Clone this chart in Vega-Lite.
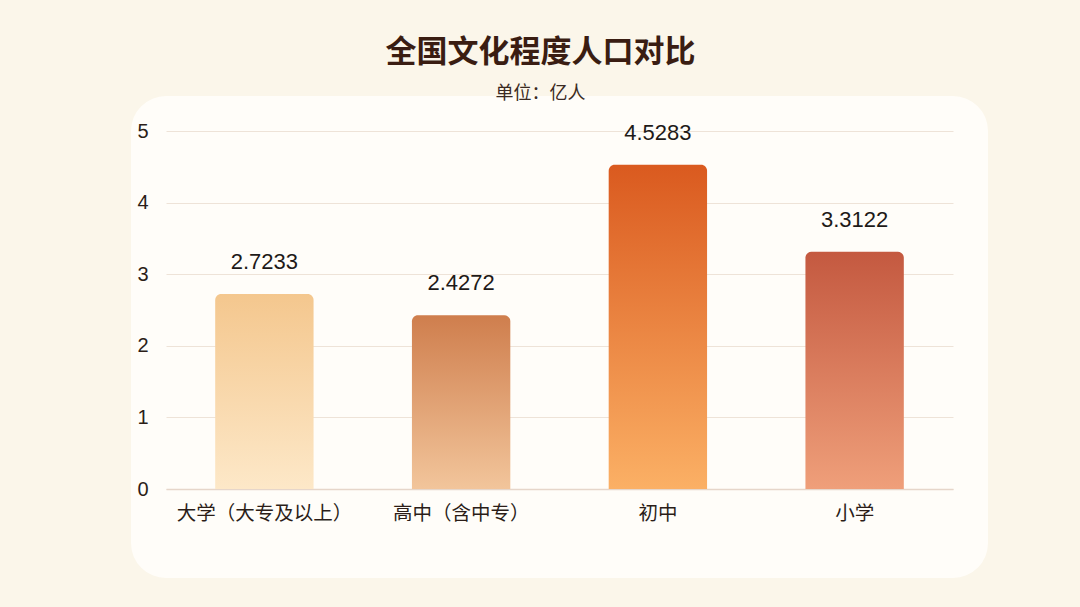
{
  "$schema": "https://vega.github.io/schema/vega-lite/v6.json",
  "autosize": {"type": "none"},
  "padding": {"left": 166, "top": 131, "right": 127, "bottom": 64},
  "width": 787,
  "height": 412,
  "background": "#fbf6ea",
  "title": {
    "text": "全国文化程度人口对比",
    "subtitle": "单位：亿人",
    "anchor": "middle",
    "dx": -19,
    "offset": 17,
    "font": "Noto Sans CJK SC",
    "fontSize": 31,
    "fontWeight": "bold",
    "color": "#3a1d12",
    "subtitleFont": "Noto Sans CJK SC",
    "subtitleFontSize": 18,
    "subtitleColor": "#3a2a22",
    "subtitlePadding": 16
  },
  "data": {
    "values": [
      {"level": "大学（大专及以上）", "pop": 2.7233},
      {"level": "高中（含中专）", "pop": 2.4272},
      {"level": "初中", "pop": 4.5283},
      {"level": "小学", "pop": 3.3122}
    ]
  },
  "encoding": {
    "x": {
      "field": "level",
      "type": "nominal",
      "sort": null,
      "scale": {"paddingInner": 0.5, "paddingOuter": 0.25},
      "axis": {
        "title": null,
        "labelAngle": 0,
        "offset": -54,
        "ticks": false,
        "domainColor": "#e6d6ca",
        "domainWidth": 1.5,
        "labelPadding": 15,
        "labelFont": "Liberation Sans, Noto Sans CJK SC",
        "labelFontSize": 19.5,
        "labelColor": "#2b1d18"
      }
    },
    "y": {
      "field": "pop",
      "type": "quantitative",
      "scale": {"domain": [-0.754, 5], "nice": false, "zero": false},
      "axis": {
        "title": null,
        "values": [0, 1, 2, 3, 4, 5],
        "domain": false,
        "ticks": false,
        "labelPadding": 18,
        "labelFont": "Liberation Sans",
        "labelFontSize": 20,
        "labelColor": "#2b1d18",
        "gridColor": "#eee3d8",
        "gridWidth": 1
      }
    }
  },
  "layer": [
    {
      "mark": {"type": "bar", "cornerRadiusTopLeft": 6, "cornerRadiusTopRight": 6},
      "encoding": {
        "y2": {"datum": 0},
        "fill": {
          "condition": [
            {
              "test": "datum.level === '大学（大专及以上）'",
              "value": {"gradient": "linear", "x1": 0, "y1": 0, "x2": 0, "y2": 1,
                "stops": [{"offset": 0, "color": "#f4c78e"}, {"offset": 1, "color": "#fde8c8"}]}
            },
            {
              "test": "datum.level === '高中（含中专）'",
              "value": {"gradient": "linear", "x1": 0, "y1": 0, "x2": 0, "y2": 1,
                "stops": [{"offset": 0, "color": "#cf7e4d"}, {"offset": 1, "color": "#f2c59b"}]}
            },
            {
              "test": "datum.level === '初中'",
              "value": {"gradient": "linear", "x1": 0, "y1": 0, "x2": 0, "y2": 1,
                "stops": [{"offset": 0, "color": "#da5a1f"}, {"offset": 1, "color": "#fbb065"}]}
            }
          ],
          "value": {"gradient": "linear", "x1": 0, "y1": 0, "x2": 0, "y2": 1,
            "stops": [{"offset": 0, "color": "#c45940"}, {"offset": 1, "color": "#ef9f7a"}]}
        }
      }
    },
    {
      "mark": {
        "type": "text",
        "baseline": "bottom",
        "dy": -20,
        "font": "Liberation Sans",
        "fontSize": 22,
        "color": "#1e1a18"
      },
      "encoding": {
        "text": {"field": "pop", "type": "quantitative", "format": ".4f"}
      }
    }
  ],
  "config": {
    "view": {
      "fill": "#fffdf9",
      "stroke": "#fffdf9",
      "strokeWidth": 70,
      "strokeJoin": "round"
    }
  }
}
